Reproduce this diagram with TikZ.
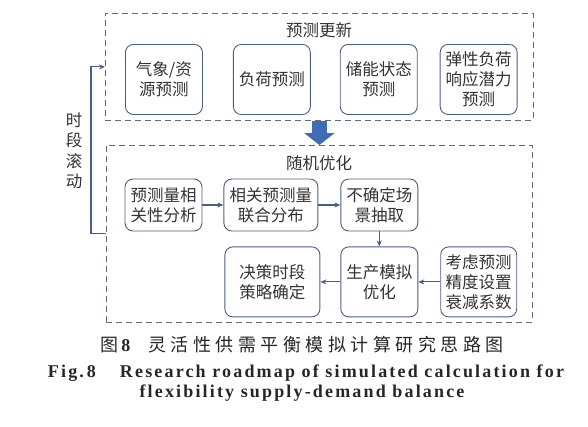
\documentclass[tikz,border=0pt]{standalone}
\usepackage{fontspec}
\setmainfont{Liberation Serif}
\newfontfamily\cjk{Noto Sans CJK SC}
\newfontfamily\cjkcap[LetterSpace=25]{Noto Sans CJK SC}
\newfontfamily\encap[LetterSpace=12]{Liberation Serif}
\usepackage{tikz}
\usetikzlibrary{arrows.meta,positioning}
\usepackage{xcolor}
\definecolor{boxline}{HTML}{4A5E85}
\definecolor{dashline}{HTML}{5F6B7C}
\definecolor{bigblue}{HTML}{3F6DB5}
\definecolor{txt}{HTML}{333333}

\begin{document}
\begin{tikzpicture}[
    x=1pt, y=-1pt,
    node distance=22pt and 22pt,
    box/.style={draw=boxline, line width=0.9pt, rounded corners=8pt, align=center, text=txt, inner sep=0pt, font=\cjk\fontsize{16.5}{20}\selectfont},
    upbox/.style={box, minimum width=77pt, minimum height=70pt, anchor=north west},
    rowone/.style={box, minimum width=77pt, minimum height=52pt},
    rowtwo/.style={box, minimum width=77pt, minimum height=70pt},
    frame/.style={draw=dashline, line width=0.8pt, dash pattern=on 6pt off 4pt, anchor=north west, inner sep=0pt},
    title/.style={text=txt, font=\cjk\fontsize{16.5}{20.5}\selectfont},
    arrow/.style={->, >={Stealth[length=6pt, width=5pt]}, draw=boxline, line width=1.1pt},
    bigarrow/.style={draw=bigblue, line width=15pt, -{Triangle[width=30pt, length=12pt]}},
    capzh/.style={text=black!85, font=\fontsize{18}{20}\selectfont},
    capen/.style={text=black!85, font=\encap\bfseries\fontsize{18}{20}\selectfont}
  ]
  \useasboundingbox (0,0) rectangle (588,426);

  % Forecast update
  \node[frame, minimum width=428pt, minimum height=107pt] (upd) at (105,13) {};
  \node[title] (updtitle) at (319,30) {预测更新};
  \node[upbox] (wx) at (125,44) {气象/资\\源预测};
  \node[upbox, right=30pt of wx.north east, anchor=north west] (load) {负荷预测};
  \node[upbox, right=29pt of load.north east, anchor=north west] (ess) {储能状态\\预测};
  \node[upbox, right=22pt of ess.north east, anchor=north west] (flex) {弹性负荷\\响应潜力\\预测};

  % Stochastic optimisation
  \node[frame, minimum width=426pt, minimum height=177pt] (opt) at (106,145) {};
  \node[title] (opttitle) at (319,163) {随机优化};
  \node[rowone] (corr) at (163.5,205) {预测量相\\关性分析};
  \node[rowone, minimum width=94pt, right=21pt of corr] (joint) {相关预测量\\联合分布};
  \node[rowone, right=22pt of joint] (scen) {不确定场\\景抽取};
  \node[rowtwo, below=15pt of scen] (sim) {生产模拟\\优化};
  \node[rowtwo, minimum width=95pt, left=20pt of sim] (dec) {决策时段\\策略确定};
  \node[rowtwo, minimum width=76pt, right=22pt of sim] (decay) {考虑预测\\精度设置\\衰减系数};

  % Rolling horizon
  \node[title, align=center] (roll) at (74,151) {时\\段\\滚\\动};

  % Connections
  \draw[bigarrow] (upd.south) -- (opt.north);
  \draw[arrow] (opt.west) -- ++(-15,0) |- (upd.west);
  \draw[arrow] (corr) -- (joint);
  \draw[arrow] (joint) -- (scen);
  \draw[arrow] (scen) -- (sim);
  \draw[arrow] (decay) -- (sim);
  \draw[arrow] (sim) -- (dec);

  % Caption
  \node[capzh] (capzh) at (302,345) {{\cjkcap 图}\,{\bfseries 8}\hspace{18pt}{\cjkcap 灵活性供需平衡模拟计算研究思路图}};
  \node[capen] (capen1) at (306,373) {Fig.\,8\hspace{24pt}Research roadmap of simulated calculation for};
  \node[capen] (capen2) at (302,393) {flexibility supply-demand balance};
\end{tikzpicture}
\end{document}
